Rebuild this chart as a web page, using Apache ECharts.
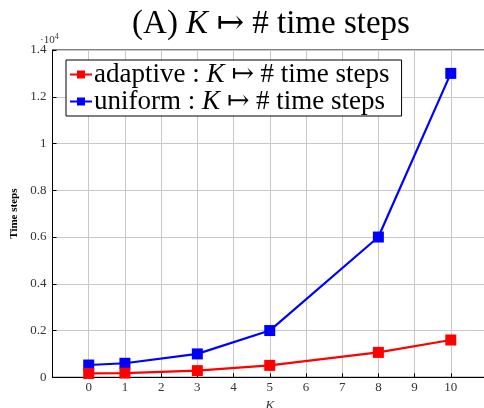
<!DOCTYPE html>
<html><head><meta charset="utf-8">
<script src="https://cdn.jsdelivr.net/npm/echarts@6/dist/echarts.min.js"></script>
<style>html,body{margin:0;padding:0;background:#fff}#c{width:484px;height:408px}</style>
</head><body><div id="c"></div>
<script>
const K = [0, 1, 3, 5, 8, 10];
const adaptive = [165, 180, 285, 510, 1065, 1595];
const uniform = [525, 600, 1000, 2000, 6000, 13000];
const seriesNames = ['adaptive', 'uniform'];
const serif = '"Liberation Serif", "DejaVu Serif", serif';

const chart = echarts.init(document.getElementById('c'));
const legendRich = {
  n: { fontFamily: serif, fontSize: 27, lineHeight: 24, color: '#000' },
  k: { fontFamily: serif, fontSize: 27, lineHeight: 24, fontStyle: 'italic', color: '#000' }
};
chart.setOption({
  animation: false,
  title: {
    text: '(A) {k|K} ↦ # time steps',
    left: 266, textAlign: 'center', top: 3,
    textStyle: {
      fontFamily: serif, fontSize: 33, fontWeight: 'normal', color: '#000',
      rich: {
        k: { fontFamily: serif, fontSize: 33, fontStyle: 'italic', color: '#000' }
      }
    }
  },
  grid: {
    left: 52.5, top: 50, width: 434.5, height: 327.3, outerBoundsMode: 'none', containLabel: false,
    show: true, borderColor: '#000', borderWidth: 1, backgroundColor: 'transparent'
  },
  legend: {
    left: 66, top: 60, orient: 'vertical',
    backgroundColor: '#fff', borderColor: '#000', borderWidth: 1, borderRadius: 0,
    padding: [1, 12, 1, 3], itemGap: 0, itemWidth: 22, itemHeight: 10,
    data: seriesNames,
    formatter: function (name) {
      return '{n|' + name + ' :}{k| K}{n| ↦ # time steps}';
    },
    textStyle: { rich: legendRich, padding: [0, 0, 0, -3] }
  },
  xAxis: {
    type: 'value', min: -1, max: 11, interval: 1,
    name: 'K', nameLocation: 'middle', nameGap: 19,
    nameTextStyle: { fontFamily: serif, fontSize: 13, fontStyle: 'italic', color: '#333' },
    axisLine: { show: true, onZero: false, lineStyle: { color: '#000', width: 1 } },
    axisTick: { show: true, inside: true, length: 4, lineStyle: { color: '#000' } },
    axisLabel: {
      fontFamily: serif, fontSize: 13, color: '#333', margin: 4,
      formatter: function (v) { return (v < 0 || v > 10) ? '' : String(v); }
    },
    splitLine: { show: true, lineStyle: { color: '#c8c8c8', width: 1 } }
  },
  yAxis: {
    type: 'value', min: 0, max: 14000, interval: 2000,
    name: 'Time steps', nameLocation: 'middle', nameGap: 30, nameRotate: 90,
    nameTextStyle: { fontFamily: serif, fontSize: 11, fontWeight: 'bold', color: '#000' },
    axisLine: { show: true, onZero: false, lineStyle: { color: '#000', width: 1 } },
    axisTick: { show: true, inside: true, length: 4, lineStyle: { color: '#000' } },
    axisLabel: {
      fontFamily: serif, fontSize: 13, color: '#333', margin: 6,
      formatter: function (v) { return v === 0 ? '0' : String(+(v / 10000).toFixed(1)); }
    },
    splitLine: { show: true, lineStyle: { color: '#c8c8c8', width: 1 } }
  },
  graphic: [{
    type: 'text', left: 40, top: 33,
    style: {
      text: '·10{s|4}', fontFamily: serif, fontSize: 11, fill: '#333',
      rich: { s: { fontFamily: serif, fontSize: 8, verticalAlign: 'top', padding: [0, 0, 6, 0] } }
    }
  }],
  series: [
    {
      name: 'adaptive', type: 'line', data: K.map((k, i) => [k, adaptive[i]]),
      symbol: 'rect', symbolSize: 11, color: '#ff0000',
      lineStyle: { width: 2.2, color: '#ff0000' }, itemStyle: { color: '#ff0000' }, z: 3
    },
    {
      name: 'uniform', type: 'line', data: K.map((k, i) => [k, uniform[i]]),
      symbol: 'rect', symbolSize: 11, color: '#0000ff',
      lineStyle: { width: 2.2, color: '#0000ff' }, itemStyle: { color: '#0000ff' }, z: 2
    }
  ]
});
</script></body></html>
